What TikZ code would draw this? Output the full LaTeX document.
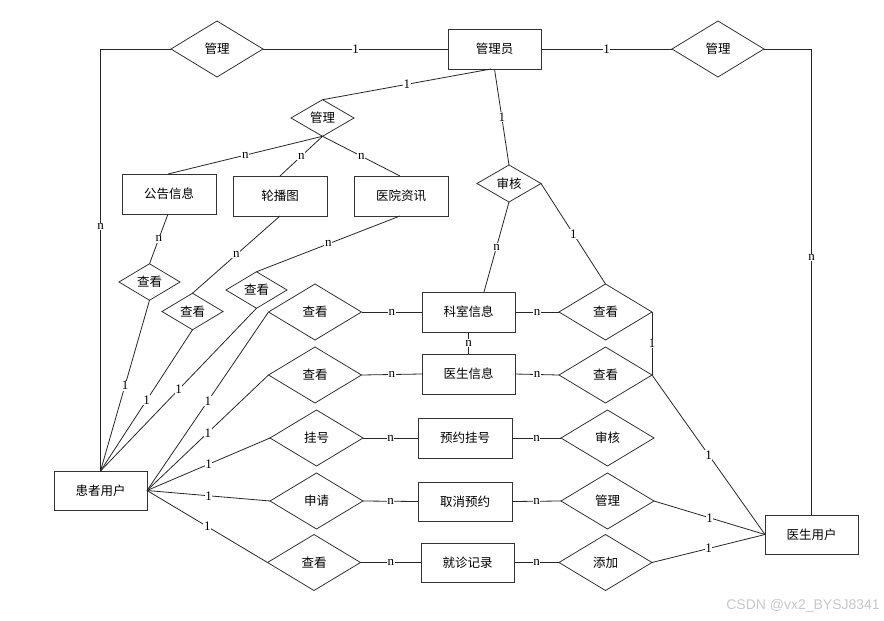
\documentclass[tikz,border=0pt]{standalone}
\usepackage{fontspec}
\usepackage{tikz}
\usetikzlibrary{shapes.geometric,positioning,calc}
\newfontfamily\cjk{Noto Sans CJK SC}
\newfontfamily\lblfont{Liberation Serif}
\newfontfamily\wmfont{Liberation Sans}

\begin{document}
\begin{tikzpicture}[x=1pt,y=-1pt,
    entity/.style={draw=black!80, line width=0.95pt, minimum width=93pt, minimum height=40pt, inner sep=0pt, outer sep=0pt, font={\cjk\fontsize{12.5}{14}\selectfont}},
    relation/.style={diamond, draw=black!80, line width=0.8pt, minimum width=93pt, minimum height=56pt, inner sep=0pt, outer sep=0pt, font={\cjk\fontsize{12.5}{14}\selectfont}},
    minirel/.style={relation, minimum width=62pt, minimum height=36pt},
    link/.style={draw=black!85, line width=0.8pt},
    card/.style={fill=white, inner sep=0.6pt, font={\lblfont\fontsize{13}{13}\selectfont}}
]
    \useasboundingbox (0,0) rectangle (884,621);

    % Top row
    \node[relation, minimum width=92pt] (manageL) at (217,49) {管理};
    \node[entity] (admin) at (494.5,49) {管理员};
    \node[relation, minimum width=92pt] (manageR) at (718,49) {管理};

    % Information managed by the admin
    \node[minirel, minimum width=63pt] (manageS) at (322.5,118) {管理};
    \node[entity, minimum width=94pt] (notice) at (169,194) {公告信息};
    \node[entity, minimum width=94pt] (carousel) at (280,196) {轮播图};
    \node[entity, minimum width=94pt] (news) at (401,196) {医院资讯};
    \node[minirel, minimum width=61pt] (viewN) at (149.5,282) {查看};
    \node[minirel, minimum width=61pt, minimum height=32pt] (viewC) at (192.5,311.5) {查看};
    \node[minirel, minimum width=61pt] (viewH) at (256.5,290) {查看};
    \node[minirel, minimum width=64pt, minimum height=37pt] (audit) at (509,183.5) {审核};

    % Users
    \node[entity, minimum height=39pt] (patient) at (100.5,490.5) {患者用户};
    \node[entity, minimum height=39pt] (doctor) at (811.5,534.5) {医生用户};

    % Left relations
    \node[relation] (viewDept) at (315,312) {查看};
    \node[relation] (viewDoc) at (315,375) {查看};
    \node[relation] (register) at (316.5,438) {挂号};
    \node[relation] (apply) at (316.5,501) {申请};
    \node[relation] (viewRec) at (314,562.5) {查看};

    % Middle entities
    \node[entity] (dept) at (468.5,312) {科室信息};
    \node[entity] (docinfo) at (468.5,374) {医生信息};
    \node[entity, minimum width=94pt] (booking) at (465,438) {预约挂号};
    \node[entity, minimum width=94pt, minimum height=39pt] (cancel) at (465,501.5) {取消预约};
    \node[entity, minimum height=39pt] (record) at (467.5,562.5) {就诊记录};

    % Right relations
    \node[relation] (checkDept) at (605.5,312) {查看};
    \node[relation] (checkDoc) at (605.5,375) {查看};
    \node[relation] (approve) at (607.5,438) {审核};
    \node[relation] (manageD) at (607.5,501) {管理};
    \node[relation] (addRec) at (605.5,562.5) {添加};

    % Admin connections
    \draw[link] (manageL.west) -| node[card, pos=0.71] {n} (patient.north);
    \draw[link] (manageL.east) -- node[card] {1} (admin.west);
    \draw[link] (admin.east) -- node[card] {1} (manageR.west);
    \draw[link] (manageR.east) -| node[card, pos=0.724] {n} (doctor.north);
    \draw[link] ([xshift=-3.5pt]admin.south) -- node[card] {1} (manageS.north);
    \draw[link] (admin.south) -- node[card] {1} (audit.north);

    \draw[link] (manageS.south) -- node[card] {n} ([xshift=-1pt]notice.north);
    \draw[link] (manageS.south) -- node[card] {n} (carousel.north);
    \draw[link] (manageS.south) -- node[card] {n} ([xshift=-1pt]news.north);
    \draw[link] ([xshift=-1pt]notice.south) -- node[card] {n} (viewN.north);
    \draw[link] (carousel.south) -- node[card] {n} (viewC.north);
    \draw[link] ([xshift=-1pt]news.south) -- node[card] {n} (viewH.north);
    \draw[link] (viewN.south) -- node[card] {1} (patient.north);
    \draw[link] (viewC.south) -- node[card] {1} (patient.north);
    \draw[link] (viewH.south) -- node[card] {1} (patient.north);

    % Audit of departments
    \draw[link] (audit.south) -- node[card] {n} ([xshift=15.5pt]dept.north);
    \draw[link] (audit.east) -- node[card] {1} (checkDept.north);
    \draw[link] (dept.south) -- node[card] {n} (docinfo.north);
    \draw[link] (checkDept.east) -- node[card] {1} (checkDoc.east);

    % Patient connections
    \draw[link] (patient.east) -- node[card] {1} (viewDept.west);
    \draw[link] (patient.east) -- node[card] {1} (viewDoc.west);
    \draw[link] (patient.east) -- node[card] {1} (register.west);
    \draw[link] (patient.east) -- node[card] {1} (apply.west);
    \draw[link] (patient.east) -- node[card] {1} (viewRec.west);

    % Rows
    \draw[link] (viewDept.east) -- node[card] {n} (dept.west);
    \draw[link] (dept.east) -- node[card] {n} (checkDept.west);
    \draw[link] (viewDoc.east) -- node[card] {n} (docinfo.west);
    \draw[link] (docinfo.east) -- node[card] {n} (checkDoc.west);
    \draw[link] (register.east) -- node[card] {n} (booking.west);
    \draw[link] (booking.east) -- node[card] {n} (approve.west);
    \draw[link] (apply.east) -- node[card] {n} (cancel.west);
    \draw[link] (cancel.east) -- node[card] {n} (manageD.west);
    \draw[link] (viewRec.east) -- node[card] {n} (record.west);
    \draw[link] (record.east) -- node[card] {n} (addRec.west);

    % Doctor connections
    \draw[link] (checkDoc.east) -- node[card] {1} (doctor.west);
    \draw[link] (manageD.east) -- node[card] {1} (doctor.west);
    \draw[link] (addRec.east) -- node[card] {1} (doctor.west);

    % Watermark
    \node[anchor=east, inner sep=0pt, text=black!22, font={\wmfont\fontsize{14}{14}\selectfont}] (mark) at (880,606) {CSDN @vx2\_BYSJ8341};
\end{tikzpicture}
\end{document}
